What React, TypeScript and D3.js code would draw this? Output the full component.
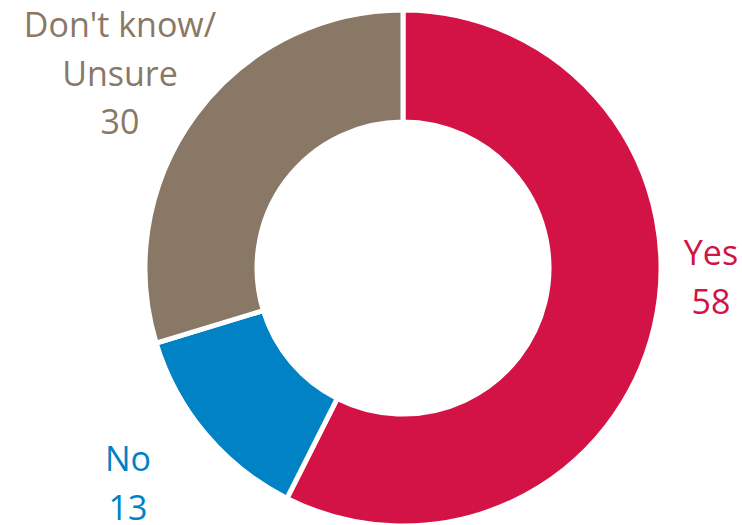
import React from "react";
import * as d3 from "d3";

const categories = ["Yes", "No", "Don't know/\nUnsure"];
const values = [58, 13, 30];
const colors = ["#D31245", "#0082C4", "#897866"];

const W = 742, H = 525;
const cx = 403, cy = 268;
const outerR = 258, innerR = 146;

const labelPos = [
  { x: 711, y: 265, anchor: "middle" },
  { x: 128, y: 471, anchor: "middle" },
  { x: 120, y: 37, anchor: "middle" },
];

export default function App() {
  const pie = d3.pie<number>().sort(null).value((d) => d);
  const arcs = pie(values);
  const arc = d3.arc<d3.PieArcDatum<number>>().innerRadius(innerR).outerRadius(outerR);
  return (
    <svg width={W} height={H} style={{ position: "absolute", left: 0, top: 0 }}>
      <g transform={`translate(${cx},${cy})`}>
        {arcs.map((a, i) => (
          <path key={i} d={arc(a) || ""} fill={colors[i]} stroke="#fff" strokeWidth={5} strokeLinejoin="miter" />
        ))}
      </g>
      {categories.map((c, i) => {
        const lines = c.split("\n").concat(String(values[i]));
        const p = labelPos[i];
        return (
          <text key={i} x={p.x} y={p.y} textAnchor={p.anchor as any} fill={colors[i]}
            fontFamily="'Open Sans', 'Noto Sans', sans-serif" fontSize={34}>
            {lines.map((l, j) => (
              <tspan key={j} x={p.x} dy={j === 0 ? 0 : 48.5}>{l}</tspan>
            ))}
          </text>
        );
      })}
    </svg>
  );
}
